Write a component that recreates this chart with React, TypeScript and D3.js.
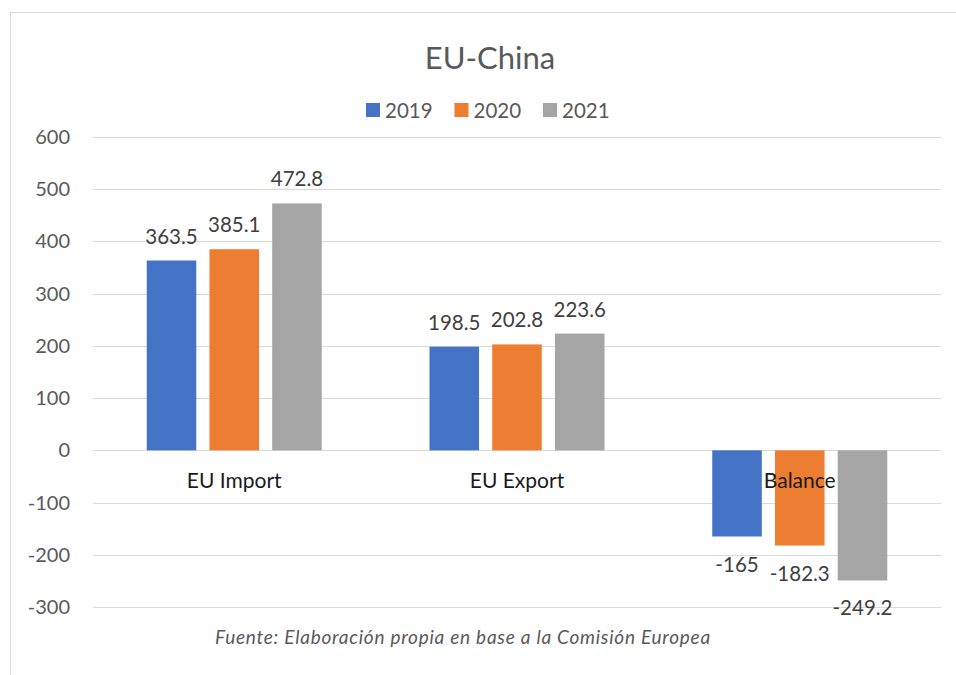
import React from "react";
import * as d3 from "d3";

const categories = ["EU Import", "EU Export", "Balance"];
const seriesNames = ["2019", "2020", "2021"];
const values2019 = [363.5, 198.5, -165];
const values2020 = [385.1, 202.8, -182.3];
const values2021 = [472.8, 223.6, -249.2];
const yTicks = [600, 500, 400, 300, 200, 100, 0, -100, -200, -300];

const colors = ["#4472C4", "#ED7D31", "#A5A5A5"];
const font = "Lato, 'Open Sans', sans-serif";

const W = 956;
const H = 675;
const margin = { top: 137, right: 15, bottom: 68, left: 93 };

const App: React.FC = () => {
  const series = [values2019, values2020, values2021];

  const x0 = d3
    .scaleBand<string>()
    .domain(categories)
    .range([margin.left, W - margin.right])
    .paddingInner(0.381)
    .paddingOuter(0.19);

  const x1 = d3
    .scaleBand<string>()
    .domain(seriesNames)
    .range([0, x0.bandwidth()])
    .paddingInner(0.21);

  const y = d3
    .scaleLinear()
    .domain([-300, 600])
    .range([H - margin.bottom, margin.top]);

  const fmt = (v: number) => String(v);

  // legend layout
  const legendItemW = 88.5;
  const legendStart = 366;

  return (
    <svg
      width={W}
      height={H}
      style={{ position: "absolute", left: 0, top: 0, background: "#fff" }}
    >
      {/* chart border */}
      <rect x={10.5} y={12.5} width={980} height={700} fill="#fff" stroke="#d9d9d9" />

      {/* title */}
      <text
        x={490}
        y={69}
        textAnchor="middle"
        fontFamily={font}
        fontSize={31}
        fill="#595959"
      >
        EU-China
      </text>

      {/* legend */}
      {seriesNames.map((s, i) => (
        <g key={s} transform={`translate(${legendStart + i * legendItemW},110)`}>
          <rect x={0} y={-7} width={14} height={14} fill={colors[i]} />
          <text x={19} y={7.5} fontFamily={font} fontSize={20.5} fill="#595959">
            {s}
          </text>
        </g>
      ))}

      {/* gridlines + y labels */}
      {yTicks.map((t) => (
        <g key={t}>
          <line
            x1={margin.left}
            x2={941}
            y1={Math.round(y(t)) + 0.5}
            y2={Math.round(y(t)) + 0.5}
            stroke="#d9d9d9"
            strokeWidth={1}
          />
          <text
            x={70}
            y={y(t) + 7}
            textAnchor="end"
            fontFamily={font}
            fontSize={20}
            fill="#595959"
          >
            {t}
          </text>
        </g>
      ))}

      {/* bars */}
      {categories.map((c, ci) => (
        <g key={c} transform={`translate(${x0(c)},0)`}>
          {seriesNames.map((s, si) => {
            const v = series[si][ci];
            const top = y(Math.max(0, v));
            const h = Math.abs(y(v) - y(0));
            const bx = x1(s)!;
            return (
              <g key={s}>
                <rect x={bx} y={top} width={x1.bandwidth()} height={h} fill={colors[si]} />
                <text
                  x={bx + x1.bandwidth() / 2}
                  y={v >= 0 ? y(v) - 17 : y(v) + 35}
                  textAnchor="middle"
                  fontFamily={font}
                  fontSize={20.5}
                  fill="#404040"
                >
                  {fmt(v)}
                </text>
              </g>
            );
          })}
        </g>
      ))}

      {/* category labels */}
      {categories.map((c) => (
        <text
          key={c}
          x={x0(c)! + x0.bandwidth() / 2}
          y={y(0) + 37.5}
          textAnchor="middle"
          fontFamily={font}
          fontSize={21}
          fill="#1a1a1a"
        >
          {c}
        </text>
      ))}

      {/* source note */}
      <text
        x={463}
        y={644}
        textAnchor="middle"
        fontFamily={font}
        fontSize={19}
        fontStyle="italic"
        letterSpacing={0.75}
        fill="#595959"
      >
        Fuente: Elaboración propia en base a la Comisión Europea
      </text>
    </svg>
  );
};

export default App;
